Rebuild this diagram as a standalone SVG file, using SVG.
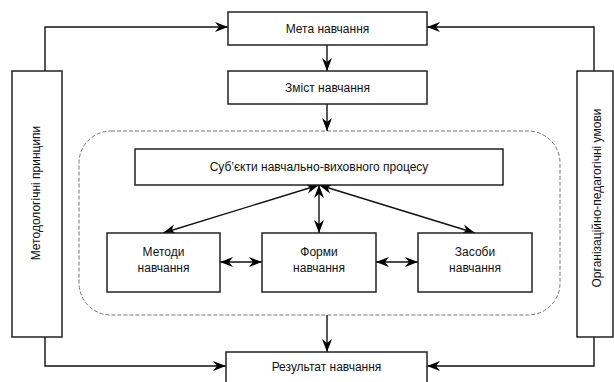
<svg xmlns="http://www.w3.org/2000/svg" width="614" height="382" viewBox="0 0 614 382">
<defs>
<marker id="ah" markerUnits="userSpaceOnUse" markerWidth="14" markerHeight="12" refX="13" refY="5" orient="auto-start-reverse" viewBox="0 0 14 10">
<path d="M0,0 L13,5 L0,10 L4,5 z" fill="#000"/>
</marker>
<style>
.box{fill:#fff;stroke:#222;stroke-width:1.5}
.t{font-family:"Liberation Sans",Arial,sans-serif;font-size:12px;fill:#111;text-anchor:middle}
.c{fill:none;stroke:#111;stroke-width:1.4}
.a{marker-end:url(#ah)}
.d{marker-start:url(#ah);marker-end:url(#ah)}
</style>
</defs>
<rect width="614" height="382" fill="#fff"/>
<g id="group">
<rect x="79" y="131" width="481" height="184" rx="32" ry="32" fill="none" stroke="#777" stroke-width="1" stroke-dasharray="4,2"/>
</g>
<g id="connectors">
<path class="c a" d="M45,71 V27 H228"/>
<path class="c a" d="M594,71 V27 H427"/>
<path class="c a" d="M45,337 V366 H226"/>
<path class="c a" d="M594,337 V366 H427"/>
<path class="c a" d="M327,45 V71"/>
<path class="c a" d="M327,104 V131"/>
<path class="c a" d="M327,315 V352"/>
<path class="c d" d="M319,185 V233"/>
<path class="c d" d="M319,185 L163,233"/>
<path class="c d" d="M319,185 L475,233"/>
<path class="c d" d="M220,262 H262"/>
<path class="c d" d="M376,262 H418"/>
</g>
<g id="meta"><rect class="box" x="228" y="12" width="199" height="33"/><text class="t" x="327.5" y="32.5">Мета навчання</text></g>
<g id="zmist"><rect class="box" x="228" y="71" width="199" height="33"/><text class="t" x="327.5" y="91.5">Зміст навчання</text></g>
<g id="metodologichni"><rect class="box" x="12" y="71" width="50" height="266"/><text class="t" transform="translate(40,193) rotate(-90)">Методологічні принципи</text></g>
<g id="orhanizatsiyno"><rect class="box" x="577" y="71" width="36" height="266"/><text class="t" transform="translate(601,198) rotate(-90)">Організаційно-педагогічні умови</text></g>
<g id="subiekty"><rect class="box" x="135" y="149" width="368" height="36"/><text class="t" x="319" y="171">Суб’єкти навчально-виховного процесу</text></g>
<g id="metody"><rect class="box" x="107" y="233" width="113" height="59"/><text class="t" x="163.5" y="256">Методи</text><text class="t" x="163.5" y="272">навчання</text></g>
<g id="formy"><rect class="box" x="262" y="233" width="114" height="59"/><text class="t" x="319" y="256">Форми</text><text class="t" x="319" y="272">навчання</text></g>
<g id="zasoby"><rect class="box" x="418" y="233" width="114" height="59"/><text class="t" x="475" y="256">Засоби</text><text class="t" x="475" y="272">навчання</text></g>
<g id="rezultat"><rect class="box" x="226" y="352" width="201" height="40"/><text class="t" x="326.5" y="371">Результат навчання</text></g>
</svg>
